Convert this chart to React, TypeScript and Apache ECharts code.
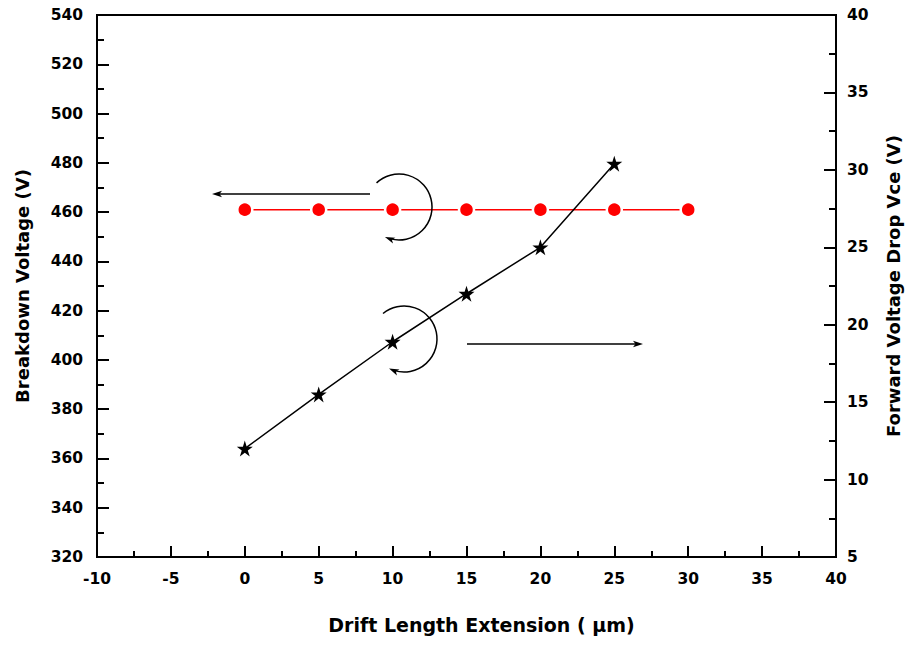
import React, { useEffect, useRef } from "react";
import * as echarts from "echarts";

// Drift length extension (µm) on the x axis
const driftLength = [0, 5, 10, 15, 20, 25, 30];
// Breakdown voltage (V), left axis
const breakdownVoltage = [461, 461, 461, 461, 461, 461, 461];
// Forward voltage drop Vce (V), right axis
const forwardDrop = [12.0, 15.5, 18.9, 22.0, 25.0, 30.4];

const xTicks = { min: -10, max: 40, interval: 5 };
const leftTicks = { min: 320, max: 540, interval: 20 };
const rightTicks = { min: 5, max: 40, interval: 5 };

const FONT = "'DejaVu Sans', 'Liberation Sans', Arial, sans-serif";
const STAR =
  "path://M50 0L61.17 34.63L97.55 34.55L68.07 55.87L79.39 90.45L50 69L20.61 90.45L31.93 55.87L2.45 34.55L38.83 34.63Z";

// small filled arrowhead with its tip at (tx, ty) pointing along (dx, dy)
function arrowHead(tx: number, ty: number, dx: number, dy: number) {
  const len = Math.hypot(dx, dy);
  const ux = dx / len;
  const uy = dy / len;
  const L = 10;
  const W = 3.2;
  const bx = tx - ux * L;
  const by = ty - uy * L;
  return {
    type: "polygon",
    shape: {
      points: [
        [tx, ty],
        [bx - uy * W, by + ux * W],
        [bx + ux * 2.5, by + uy * 2.5],
        [bx + uy * W, by - ux * W],
      ],
    },
    style: { fill: "#000" },
    z: 10,
  };
}

// clockwise curved arrow drawn as an arc with a head at its end
function curvedArrow(cx: number, cy: number, r: number, a0: number, a1: number) {
  const ex = cx + r * Math.cos(a1);
  const ey = cy + r * Math.sin(a1);
  const dx = -Math.sin(a1);
  const dy = Math.cos(a1);
  return [
    {
      type: "arc",
      shape: { cx, cy, r, startAngle: a0, endAngle: a1 - 0.12, clockwise: true },
      style: { stroke: "#000", lineWidth: 1.5, fill: null },
      z: 10,
    },
    arrowHead(ex + dx * 2, ey + dy * 2, dx, dy),
  ];
}

function straightArrow(x0: number, y: number, x1: number) {
  const dir = Math.sign(x1 - x0);
  return [
    {
      type: "line",
      shape: { x1: x0, y1: y, x2: x1 - dir * 6, y2: y },
      style: { stroke: "#000", lineWidth: 1.5 },
      z: 10,
    },
    arrowHead(x1, y, dir, 0),
  ];
}

export default function App() {
  const ref = useRef<HTMLDivElement>(null);

  useEffect(() => {
    document.body.style.margin = "0";
    const chart = echarts.init(ref.current!, null, { renderer: "svg" });

    const axisLabel = { color: "#000", fontFamily: FONT, fontWeight: "bold", fontSize: 15.5 };
    const nameStyle = { color: "#000", fontFamily: FONT, fontWeight: "bold", fontSize: 18 };
    const axisLine = { show: true, onZero: false, lineStyle: { color: "#000", width: 2 } };
    const axisTick = { show: true, inside: true, length: 11, lineStyle: { color: "#000", width: 2 } };
    const minorTick = { show: true, splitNumber: 2, length: 6, lineStyle: { color: "#000", width: 2 } };

    chart.setOption({
      animation: false,
      backgroundColor: "#fff",
      grid: {
        left: 97,
        right: 73,
        top: 15,
        bottom: 88,
        show: true,
        borderColor: "#000",
        borderWidth: 2,
      },
      xAxis: {
        type: "value",
        ...xTicks,
        name: "Drift Length Extension ( \u03bcm)",
        nameLocation: "middle",
        nameGap: 58,
        nameTextStyle: { ...nameStyle, fontSize: 19, padding: [0, 0, 0, 30] },
        axisLine,
        axisTick,
        minorTick,
        splitLine: { show: false },
        axisLabel: { ...axisLabel, margin: 14 },
      },
      yAxis: [
        {
          type: "value",
          ...leftTicks,
          name: "Breakdown Voltage (V)",
          nameLocation: "middle",
          nameGap: 66,
          nameTextStyle: nameStyle,
          axisLine,
          axisTick: { ...axisTick, length: 12 },
          minorTick: { ...minorTick, length: 7 },
          splitLine: { show: false },
          axisLabel: { ...axisLabel, margin: 14 },
        },
        {
          type: "value",
          position: "right",
          ...rightTicks,
          name: "Forward Voltage Drop Vce (V)",
          nameLocation: "middle",
          nameGap: 48,
          nameTextStyle: nameStyle,
          axisLine,
          axisTick: { ...axisTick, length: 12 },
          minorTick: { ...minorTick, length: 7 },
          splitLine: { show: false },
          axisLabel: { ...axisLabel, margin: 11 },
        },
      ],
      series: [
        {
          type: "line",
          yAxisIndex: 0,
          data: driftLength.map((x, i) => [x, breakdownVoltage[i]]),
          symbol: "circle",
          symbolSize: 15,
          lineStyle: { color: "#ff0000", width: 1.5 },
          itemStyle: { color: "#ff0000", borderColor: "#fff", borderWidth: 2.5 },
          z: 3,
        },
        {
          type: "line",
          yAxisIndex: 1,
          data: forwardDrop.map((v, i) => [driftLength[i], v]),
          symbol: STAR,
          symbolSize: 16,
          lineStyle: { color: "#000", width: 1.5 },
          itemStyle: { color: "#000" },
          z: 4,
        },
      ],
      graphic: [
        ...straightArrow(370, 194, 212),
        ...curvedArrow(399, 207, 33, -2.32, 1.95),
        ...curvedArrow(404, 339, 33, -2.26, 1.98),
        ...straightArrow(467, 344, 643),
      ],
    });

    return () => chart.dispose();
  }, []);

  return <div ref={ref} style={{ width: 910, height: 645 }} />;
}
